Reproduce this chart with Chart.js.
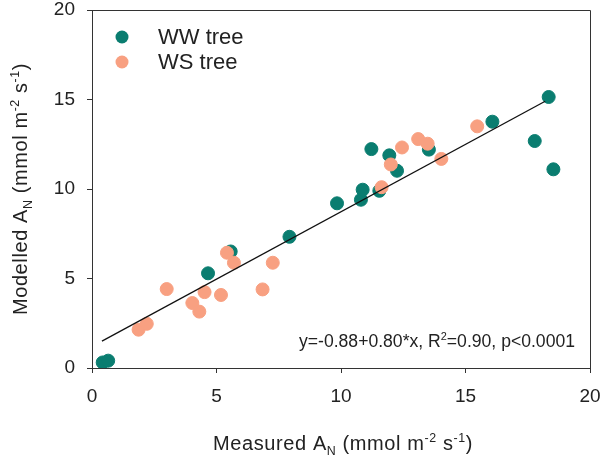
<!DOCTYPE html>
<html>
<head>
<meta charset="utf-8">
<script src="https://cdn.jsdelivr.net/npm/chart.js@4/dist/chart.umd.min.js"></script>
<style>
  html, body { margin: 0; padding: 0; background: #fff; }
  #wrap { width: 605px; height: 457px; }
</style>
</head>
<body>
<div id="wrap"><canvas id="scatterChart" width="605" height="457"></canvas></div>
<script>
// WW tree (teal)
const wwX = [0.43, 0.65, 4.66, 5.57, 7.93, 9.84, 10.8, 10.87, 11.54, 11.22, 11.94, 12.25, 13.53, 16.08, 17.78, 18.34, 18.53];
const wwY = [0.31, 0.41, 5.29, 6.51, 7.33, 9.2, 9.4, 9.96, 9.9, 12.23, 11.88, 11.02, 12.2, 13.76, 12.68, 15.14, 11.1];
// WS tree (salmon)
const wsX = [1.87, 2.2, 3.0, 4.03, 4.31, 4.52, 5.18, 5.42, 5.7, 6.85, 7.26, 11.63, 12.0, 12.45, 13.1, 13.48, 14.03, 15.47];
const wsY = [2.14, 2.47, 4.41, 3.63, 3.15, 4.24, 4.08, 6.44, 5.88, 4.39, 5.88, 10.1, 11.37, 12.32, 12.79, 12.53, 11.68, 13.5];
// regression line as drawn
const fitX = [0.4, 18.2];
const fitY = [1.5, 14.9];
const ticksX = [0, 5, 10, 15, 20];
const ticksY = [0, 5, 10, 15, 20];

const TEAL = '#0a7d70';
const SALMON = '#f8a081';
const FONT = '"Liberation Sans", Arial, sans-serif';

function pts(xs, ys) {
    return xs.map((x, i) => ({ x: x, y: ys[i] }));
}

// draw text with sub/superscript pieces
function richText(ctx, parts, size, x, y, align, spacing) {
    ctx.letterSpacing = (spacing || 0) + 'px';
    const widths = parts.map(p => {
        ctx.font = (p.s ? size * 0.62 : size) + 'px ' + FONT;
        return ctx.measureText(p.t).width;
    });
    const total = widths.reduce((a, b) => a + b, 0);
    let cx = align === 'center' ? x - total / 2 : (align === 'right' ? x - total : x);
    ctx.textBaseline = 'alphabetic';
    ctx.textAlign = 'left';
    parts.forEach((p, i) => {
        ctx.font = (p.s ? size * 0.62 : size) + 'px ' + FONT;
        let dy = 0;
        if (p.s === 'sup') dy = -size * 0.42;
        if (p.s === 'sub') dy = size * 0.25;
        ctx.fillText(p.t, cx, y + dy);
        cx += widths[i];
    });
    ctx.letterSpacing = '0px';
}

const decorPlugin = {
    id: 'decor',
    afterDatasetsDraw(chart) {
        const ctx = chart.ctx;
        const a = chart.chartArea;
        ctx.save();
        // frame top / right
        ctx.strokeStyle = '#333';
        ctx.lineWidth = 1;
        ctx.beginPath();
        ctx.moveTo(a.left, a.top + 0.5);
        ctx.lineTo(a.right + 0.5, a.top + 0.5);
        ctx.lineTo(a.right + 0.5, a.bottom);
        ctx.stroke();

        ctx.fillStyle = '#222';
        // legend
        const legend = [['WW tree', TEAL], ['WS tree', SALMON]];
        legend.forEach((l, i) => {
            const y = 37 + i * 25;
            ctx.fillStyle = l[1];
            ctx.beginPath();
            ctx.arc(122, y, 6.5, 0, Math.PI * 2);
            ctx.fill();
            ctx.fillStyle = '#222';
            ctx.font = '22px ' + FONT;
            ctx.textBaseline = 'middle';
            ctx.textAlign = 'left';
            ctx.fillText(l[0], 158, y + 1);
        });

        // equation
        richText(ctx, [
            { t: 'y=-0.88+0.80*x, R' }, { t: '2', s: 'sup' }, { t: '=0.90, p<0.0001' }
        ], 17.6, 575, 347, 'right');

        // axis titles
        richText(ctx, [
            { t: 'Measured A' }, { t: 'N', s: 'sub' }, { t: ' (mmol m' }, { t: '-2', s: 'sup' },
            { t: ' s' }, { t: '-1', s: 'sup' }, { t: ')' }
        ], 20, 343, 450, 'center', 0.6);

        ctx.translate(27, (a.top + a.bottom) / 2);
        ctx.rotate(-Math.PI / 2);
        richText(ctx, [
            { t: 'Modelled A' }, { t: 'N', s: 'sub' }, { t: ' (mmol m' }, { t: '-2', s: 'sup' },
            { t: ' s' }, { t: '-1', s: 'sup' }, { t: ')' }
        ], 20, 0, 0, 'center', 0.6);
        ctx.restore();
    }
};

function axisCommon(ticks) {
    return {
        type: 'linear',
        min: 0,
        max: 20,
        afterBuildTicks: scale => { scale.ticks = ticks.map(v => ({ value: v })); },
        grid: { drawOnChartArea: false, drawTicks: true, tickLength: 5, color: '#333' },
        border: { display: true, color: '#333', width: 1 },
        ticks: { color: '#222', font: { family: FONT, size: 19 } }
    };
}

// fixed axis sizes so the plot box sits where the reference has it
const xAxis = axisCommon(ticksX);
xAxis.ticks.padding = 12;
xAxis.ticks.maxRotation = 0;
xAxis.afterFit = scale => {
    scale.height = 89;
    scale.paddingLeft = 0;
    scale.paddingRight = 0;
};
const yAxis = axisCommon(ticksY);
yAxis.ticks.padding = 12;
yAxis.afterFit = scale => {
    scale.width = 92;
    scale.paddingTop = 0;
    scale.paddingBottom = 0;
};

new Chart(document.getElementById('scatterChart'), {
    type: 'scatter',
    data: {
        datasets: [
            {
                label: 'regression',
                type: 'line',
                data: pts(fitX, fitY),
                borderColor: '#111',
                borderWidth: 1.3,
                pointRadius: 0,
                fill: false,
                order: 0
            },
            {
                label: 'WS tree',
                data: pts(wsX, wsY),
                backgroundColor: SALMON,
                borderColor: SALMON,
                pointRadius: 6.5,
                order: 1
            },
            {
                label: 'WW tree',
                data: pts(wwX, wwY),
                backgroundColor: TEAL,
                borderColor: TEAL,
                pointRadius: 6.5,
                order: 2
            }
        ]
    },
    options: {
        responsive: false,
        animation: false,
        layout: { padding: { left: 0, right: 15, top: 10, bottom: 0 } },
        scales: { x: xAxis, y: yAxis },
        plugins: { legend: { display: false }, tooltip: { enabled: false } }
    },
    plugins: [decorPlugin]
});
</script>
</body>
</html>
